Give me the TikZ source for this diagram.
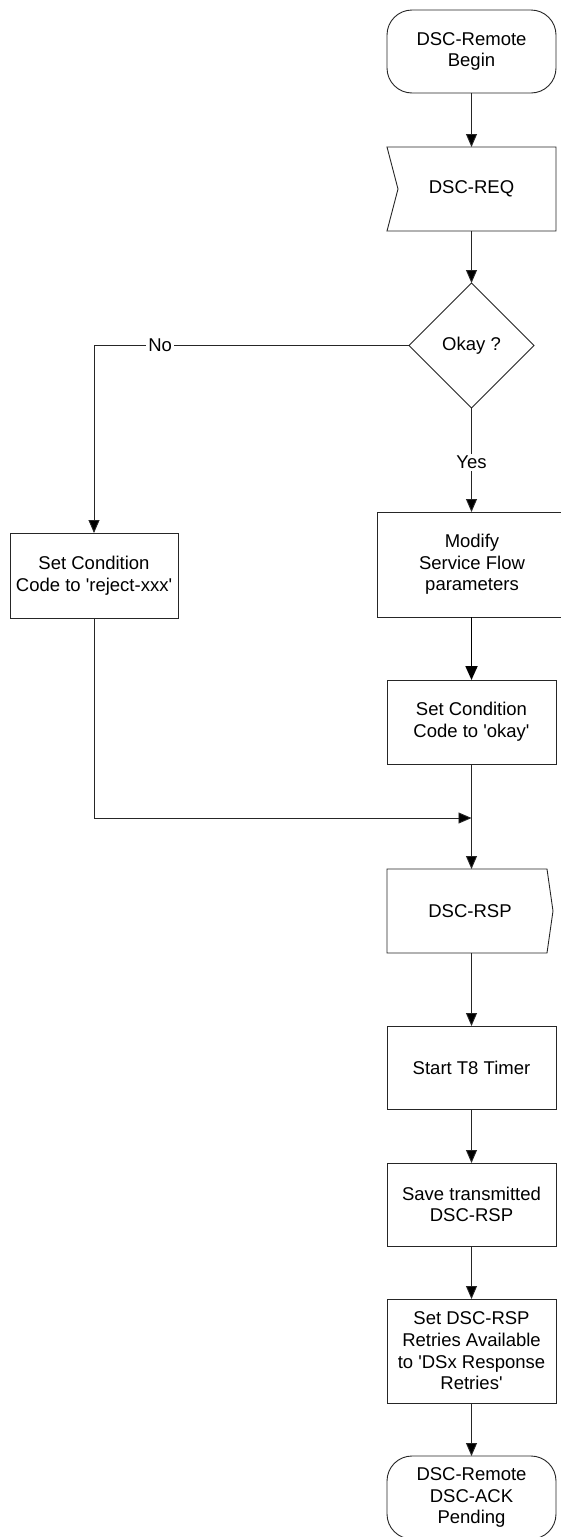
\documentclass[tikz,border=0pt]{standalone}
\usepackage{fontspec}
\setmainfont{Liberation Sans}
\usetikzlibrary{shapes.geometric,arrows.meta}
\definecolor{linec}{rgb}{0.15,0.15,0.15}
\newcommand{\sq}{\textquotesingle}
\begin{document}
\begin{tikzpicture}[x=1pt,y=-1pt,
  base/.style={font=\fontsize{18.5}{21.7}\selectfont, align=center, inner sep=0pt, outer sep=0pt, text=black},
  procbox/.style={base, draw=linec, line width=0.9pt, rectangle, minimum width=169pt},
  term/.style={base, draw=linec, line width=0.9pt, rectangle, rounded corners=25pt, minimum width=169pt, minimum height=83pt},
  sigbox/.style={base, rectangle, minimum height=84pt},
  decbox/.style={base, draw=linec, line width=0.9pt, diamond, minimum width=125pt, minimum height=125pt},
  flow/.style={draw=linec, line width=0.9pt, -{Triangle[length=13pt,width=11pt,fill=black]}},
  thickflow/.style={draw=black, line width=1.8pt, -{Triangle[length=14pt,width=12pt]}},
  lbl/.style={base, fill=white, inner sep=2pt},
  outline/.style={draw=linec, line width=0.9pt}
]
\useasboundingbox (0,0) rectangle (560,1537);
\fill[white] (0,0) rectangle (560,1537);

\node[term] (begin) at (471.5,51.5) {DSC-Remote\\Begin};
\node[sigbox, minimum width=169pt] (req) at (471.5,189) {DSC-REQ};
\draw[outline] (req.north west) -- (req.north east) -- (req.south east) -- (req.south west) -- ([xshift=11pt]req.west) -- cycle;
\node[decbox] (dec) at (471.5,345.5) {Okay ?};
\node[procbox, minimum width=168pt, minimum height=85pt] (reject) at (94,575.5) {Set Condition\\Code to \sq reject-xxx\sq};
\node[procbox, minimum width=190pt, minimum height=105pt] (modify) at (472,564.5) {Modify\\Service Flow\\parameters};
\node[procbox, minimum height=84pt] (okay) at (471.5,722) {Set Condition\\Code to \sq okay\sq};
\coordinate (merge) at (471.5,818);
\node[sigbox, minimum width=166pt] (rsp) at (470,911) {DSC-RSP};
\draw[outline] (rsp.north west) -- ([xshift=-6pt]rsp.north east) -- (rsp.east) -- ([xshift=-6pt]rsp.south east) -- (rsp.south west) -- cycle;
\node[procbox, minimum height=83pt] (t8) at (471.5,1067.5) {Start T8 Timer};
\node[procbox, minimum height=83pt] (save) at (471.5,1204.5) {Save transmitted\\DSC-RSP};
\node[procbox, minimum height=104pt] (setdsc) at (471.5,1351) {Set DSC-RSP\\Retries Available\\to \sq DSx Response\\Retries\sq};
\node[term] (end) at (471.5,1497.5) {DSC-Remote\\DSC-ACK\\Pending};

\draw[flow] (begin.south) -- (begin.south |- req.north);
\draw[flow] (req.south) -- (dec.north);
\draw[flow] (dec.west) -- node[lbl, pos=0.79] (nolbl) {No} (dec.west -| reject.north) -- (reject.north);
\draw[flow] (dec.south) -- node[lbl, pos=0.52] (yeslbl) {Yes} (dec.south |- modify.north);
\draw[thickflow] (modify.south -| okay.north) -- (okay.north);
\draw[flow] (okay.south) -- (okay.south |- rsp.north);
\draw[flow] (reject.south) -- (reject.south |- merge) -- (merge);
\draw[flow] (okay.south |- rsp.south) -- (t8.north);
\draw[flow] (t8.south) -- (save.north);
\draw[flow] (save.south) -- (setdsc.north);
\draw[flow] (setdsc.south) -- (end.north);
\end{tikzpicture}
\end{document}
